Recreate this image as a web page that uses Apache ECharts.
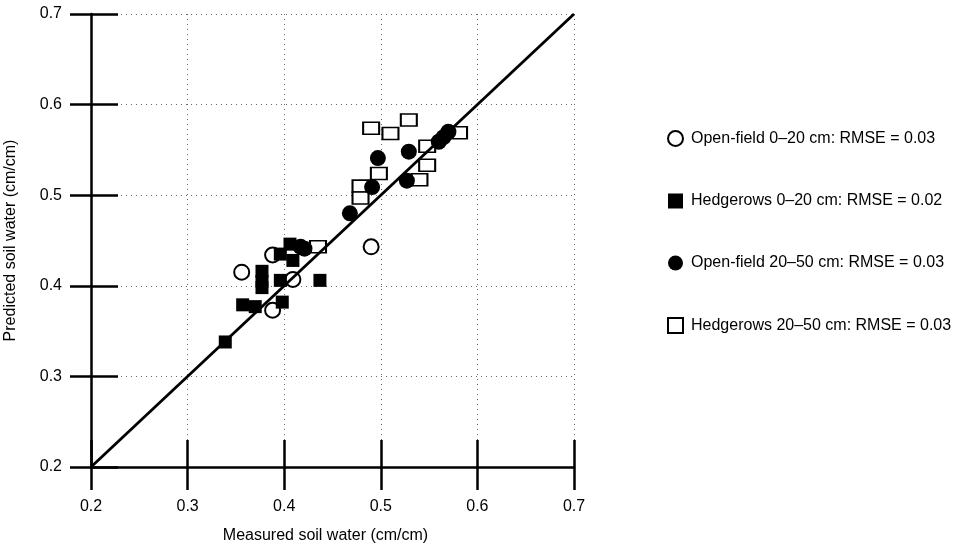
<!DOCTYPE html>
<html>
<head>
<meta charset="utf-8">
<script src="https://cdn.jsdelivr.net/npm/echarts@6/dist/echarts.min.js"></script>
<style>
  html, body { margin: 0; padding: 0; background: #fff; }
  #chart { width: 960px; height: 546px; }
</style>
</head>
<body>
<div id="chart"></div>
<script>
// values: [measured, predicted]
const openField0to20 = [[0.356, 0.415], [0.388, 0.434], [0.388, 0.373], [0.409, 0.407], [0.490, 0.443]];
const hedgerows0to20 = [
  [0.339, 0.338], [0.357, 0.379], [0.370, 0.377], [0.377, 0.416], [0.377, 0.405], [0.377, 0.398],
  [0.396, 0.435], [0.396, 0.406], [0.398, 0.382], [0.406, 0.446], [0.409, 0.428], [0.437, 0.406]
];
const openField20to50 = [
  [0.417, 0.443], [0.421, 0.441], [0.468, 0.480], [0.491, 0.509], [0.497, 0.541],
  [0.527, 0.516], [0.529, 0.548], [0.560, 0.559], [0.565, 0.564], [0.570, 0.570]
];
const hedgerows20to50 = [
  [0.435, 0.443], [0.479, 0.510], [0.479, 0.497], [0.490, 0.574], [0.498, 0.524], [0.510, 0.568],
  [0.529, 0.583], [0.540, 0.517], [0.548, 0.533], [0.548, 0.554], [0.581, 0.569]
];
const oneToOne = [[0.2, 0.2], [0.7, 0.7]];
const seriesNames = [
  "Open-field 0\u201320 cm: RMSE = 0.03",
  "Hedgerows 0\u201320 cm: RMSE = 0.02",
  "Open-field 20\u201350 cm: RMSE = 0.03",
  "Hedgerows 20\u201350 cm: RMSE = 0.03"
];

const font = "'Liberation Sans', Arial, sans-serif";
const ink = "#000";
const axisLine = { show: true, lineStyle: { color: ink, width: 2.5 } };
const tickLine = { color: ink, width: 2.5 };
const fmt = v => v.toFixed(1);

const chart = echarts.init(document.getElementById("chart"));

const baseValueAxis = {
  type: "value", min: 0.2, max: 0.7, interval: 0.1
};
const dotted = { show: true, lineStyle: { type: [1, 4], color: "#666", width: 1 } };

chart.setOption({
  animation: false,
  grid: { left: 91, right: 386, top: 14, bottom: 79, outerBoundsMode: "none", containLabel: false },
  xAxis: [
    {
      ...baseValueAxis,
      position: "bottom",
      name: "Measured soil water (cm/cm)",
      nameLocation: "middle",
      nameGap: 61,
      nameTextStyle: { fontFamily: font, fontSize: 16, color: ink, padding: [0, 14, 0, 0] },
      axisLine,
      axisTick: { show: true, length: 23, lineStyle: tickLine },
      axisLabel: { margin: 32, fontFamily: font, fontSize: 16, color: ink, formatter: fmt },
      splitLine: dotted
    },
    {
      ...baseValueAxis,
      position: "bottom",
      axisLine: { show: false },
      axisTick: { show: true, inside: true, length: 27, lineStyle: tickLine },
      axisLabel: { show: false },
      splitLine: { show: false }
    }
  ],
  yAxis: [
    {
      ...baseValueAxis,
      position: "left",
      name: "Predicted soil water (cm/cm)",
      nameLocation: "middle",
      nameGap: 72,
      nameTextStyle: { fontFamily: font, fontSize: 16, color: ink },
      axisLine,
      axisTick: { show: true, length: 21, lineStyle: tickLine },
      axisLabel: { margin: 29, fontFamily: font, fontSize: 16, color: ink, formatter: fmt },
      splitLine: dotted
    },
    {
      ...baseValueAxis,
      position: "left",
      axisLine: { show: false },
      axisTick: { show: true, inside: true, length: 27, lineStyle: tickLine },
      axisLabel: { show: false },
      splitLine: { show: false }
    }
  ],
  legend: {
    data: seriesNames,
    orient: "vertical",
    left: 667,
    top: 130,
    padding: 0,
    itemGap: 46,
    itemWidth: 15,
    itemHeight: 15,
    textStyle: { fontFamily: font, fontSize: 16, lineHeight: 15, color: ink, padding: [0, 0, 0, 3] }
  },
  series: [
    {
      name: seriesNames[0], type: "scatter", data: openField0to20,
      symbol: "circle", symbolSize: 15, z: 2,
      itemStyle: { color: "#fff", borderColor: ink, borderWidth: 2, opacity: 1 }
    },
    {
      name: seriesNames[1], type: "scatter", data: hedgerows0to20,
      symbol: "rect", symbolSize: 13, z: 3,
      itemStyle: { color: ink, opacity: 1 }
    },
    {
      name: seriesNames[2], type: "scatter", data: openField20to50,
      symbol: "circle", symbolSize: 16, z: 3,
      itemStyle: { color: ink, opacity: 1 }
    },
    {
      name: seriesNames[3], type: "scatter", data: hedgerows20to50,
      symbol: "rect", symbolSize: [16, 12], z: 2,
      itemStyle: { color: "#fff", borderColor: ink, borderWidth: 1.8, opacity: 1 }
    },
    {
      name: "1:1", type: "line", data: oneToOne,
      showSymbol: false, symbol: "none", z: 4,
      lineStyle: { color: ink, width: 2.8 }
    }
  ]
});
</script>
</body>
</html>
